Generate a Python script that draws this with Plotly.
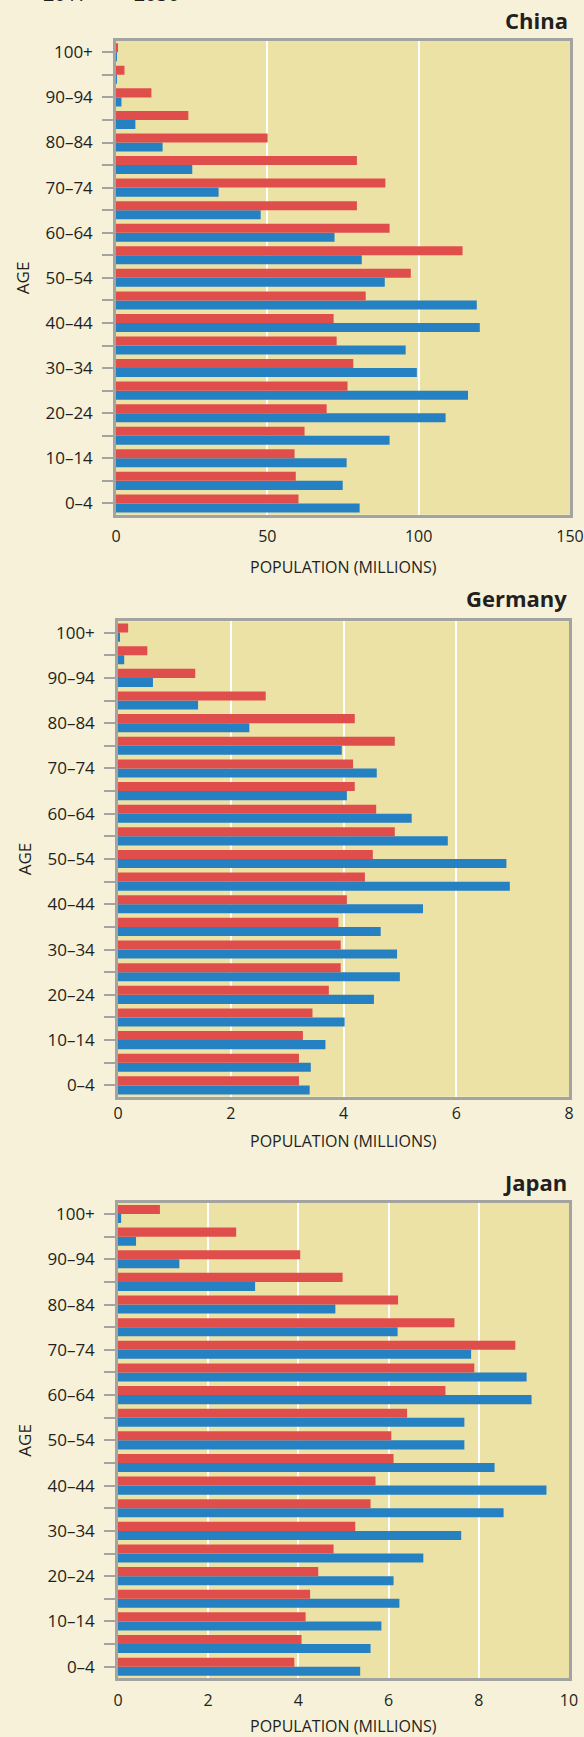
import plotly.graph_objects as go

W, H = 584, 1737

ages = ["0–4", "5–9", "10–14", "15–19", "20–24", "25–29", "30–34", "35–39",
        "40–44", "45–49", "50–54", "55–59", "60–64", "65–69", "70–74", "75–79",
        "80–84", "85–89", "90–94", "95–99", "100+"]
age_ticktext = [a if i % 2 == 0 else "" for i, a in enumerate(ages)]

china_2017 = [80.5, 74.9, 76.2, 90.4, 108.9, 116.3, 99.4, 95.7, 120.2, 119.2, 88.8,
              81.2, 72.2, 47.8, 33.9, 25.2, 15.4, 6.4, 1.8, 0.3, 0.05]
china_2050 = [60.3, 59.4, 59.0, 62.3, 69.6, 76.5, 78.4, 72.9, 71.9, 82.5, 97.4,
              114.5, 90.4, 79.6, 89.0, 79.6, 50.1, 23.9, 11.7, 2.8, 0.5]

germany_2017 = [3.40, 3.42, 3.68, 4.02, 4.54, 5.00, 4.95, 4.66, 5.41, 6.95, 6.89,
                5.85, 5.21, 4.06, 4.59, 3.97, 2.33, 1.42, 0.62, 0.11, 0.02]
germany_2050 = [3.21, 3.21, 3.28, 3.45, 3.74, 3.95, 3.95, 3.91, 4.06, 4.38, 4.52,
                4.91, 4.58, 4.20, 4.17, 4.91, 4.20, 2.62, 1.37, 0.52, 0.18]

japan_2017 = [5.37, 5.60, 5.84, 6.24, 6.11, 6.77, 7.61, 8.55, 9.50, 8.35, 7.68,
              7.68, 9.17, 9.06, 7.83, 6.20, 4.82, 3.04, 1.36, 0.40, 0.07]
japan_2050 = [3.91, 4.07, 4.16, 4.26, 4.44, 4.78, 5.26, 5.60, 5.71, 6.11, 6.06,
              6.41, 7.26, 7.90, 8.81, 7.46, 6.21, 4.98, 4.04, 2.62, 0.93]

countries = ["China", "Germany", "Japan"]
x_ranges = [[0, 150], [0, 8], [0, 10]]
x_ticks = [[0, 50, 100, 150], [0, 2, 4, 6, 8], [0, 2, 4, 6, 8, 10]]
series = [(china_2017, china_2050), (germany_2017, germany_2050), (japan_2017, japan_2050)]
x_title = "POPULATION (MILLIONS)"

BLUE = "#2581C1"
RED = "#E04E4C"
PAPER = "#F6F1D8"
PLOT = "#ECE2A6"
BORDER = "#A3A3A1"
TEXT = "#231F20"
FONT = "Open Sans, sans-serif"

# pixel layout (top, bottom, left, right) of each plot area
boxes = [(41, 514.7, 116, 570), (621.3, 1096.7, 118, 569), (1202.7, 1678, 118, 569)]
title_y = [20, 598, 1182]
xlab_standoff = [5, 0, 6]
xtitle_y = [567, 1140.5, 1726]

fig = go.Figure()
layout = dict(
    width=W, height=H,
    paper_bgcolor=PAPER, plot_bgcolor=PLOT,
    margin=dict(l=0, r=0, t=0, b=0, autoexpand=False),
    barmode="group", bargap=0.2, bargroupgap=0,
    font=dict(family=FONT, color=TEXT, size=17),
    showlegend=True,
    legend=dict(orientation="h", x=0.005, y=1 + 26 / H, yanchor="top", xanchor="left",
                font=dict(size=20, family=FONT, color=TEXT), bgcolor="rgba(0,0,0,0)",
                traceorder="normal"),
    annotations=[],
)

for i, (name, (v17, v50)) in enumerate(zip(countries, series)):
    sfx = "" if i == 0 else str(i + 1)
    fig.add_trace(go.Bar(y=ages, x=v17, orientation="h", name="2017", marker_color=BLUE,
                         marker_line_width=0, legendgroup="2017", showlegend=(i == 0),
                         xaxis="x" + sfx, yaxis="y" + sfx))
    fig.add_trace(go.Bar(y=ages, x=v50, orientation="h", name="2050", marker_color=RED,
                         marker_line_width=0, legendgroup="2050", showlegend=(i == 0),
                         xaxis="x" + sfx, yaxis="y" + sfx))
    top, bot, left, right = boxes[i]
    layout["xaxis" + sfx] = dict(
        domain=[left / W, right / W], anchor="y" + sfx, range=x_ranges[i],
        tickvals=x_ticks[i], showgrid=True, gridcolor="#FFFFFF", gridwidth=2,
        zeroline=False, showline=True, mirror=True, linecolor=BORDER, linewidth=2.5,
        ticks="", ticklabelstandoff=xlab_standoff[i], tickfont=dict(size=16),
        ticklabeloverflow="allow", fixedrange=True,
    )
    layout["yaxis" + sfx] = dict(
        domain=[1 - bot / H, 1 - top / H], anchor="x" + sfx, type="category",
        categoryorder="array", categoryarray=ages, range=[-0.5, 20.5],
        tickmode="array", tickvals=ages, ticktext=age_ticktext,
        ticks="outside", ticklen=11, tickwidth=2, tickcolor=BORDER,
        ticklabelstandoff=6, tickfont=dict(size=17),
        showline=True, mirror=True, linecolor=BORDER, linewidth=2.5, showgrid=False,
        title=dict(text="AGE", font=dict(size=17), standoff=12),
        fixedrange=True,
    )
    layout["annotations"].append(dict(
        text="<b>%s</b>" % name, xref="paper", yref="paper", x=right / W, y=1 - title_y[i] / H,
        xanchor="right", yanchor="middle", showarrow=False,
        font=dict(family=FONT, size=22, color=TEXT),
    ))
    layout["annotations"].append(dict(
        text=x_title, xref="paper", yref="paper", x=(left + right) / 2 / W,
        y=1 - xtitle_y[i] / H, xanchor="center", yanchor="middle", showarrow=False,
        font=dict(family=FONT, size=16, color=TEXT),
    ))

fig.update_layout(**layout)
fig.write_html("out.html", config={"displayModeBar": False},
               post_script="document.body.style.margin='0';document.body.style.overflow='hidden';")
